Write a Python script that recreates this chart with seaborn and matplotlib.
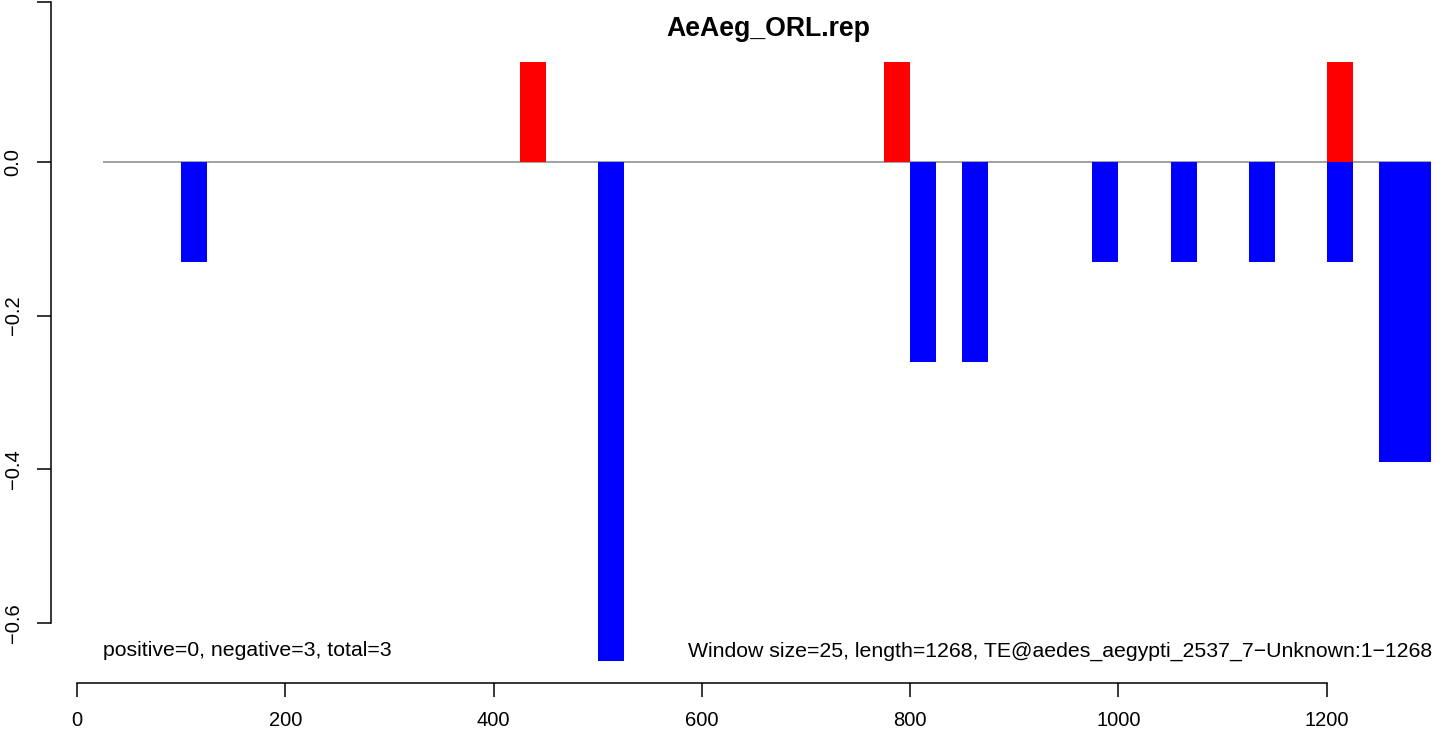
import matplotlib
matplotlib.use('Agg')
import matplotlib.pyplot as plt
import seaborn as sns
import pandas as pd

# windows (start position) with positive / negative scores
window_size = 25
pos_start = [425, 775, 1200]
pos_value = [0.13, 0.13, 0.13]
neg_start = [100, 500, 800, 850, 975, 1050, 1125, 1200, 1250, 1275]
neg_value = [-0.13, -0.65, -0.26, -0.26, -0.13, -0.13, -0.13, -0.13, -0.39, -0.39]

x_ticks = [0, 200, 400, 600, 800, 1000, 1200]
y_ticks = [-0.6, -0.4, -0.2, 0.0]

title = 'AeAeg_ORL.rep'
left_note = 'positive=0, negative=3, total=3'
right_note = 'Window size=25, length=1268, TE@aedes_aegypti_2537_7\u2212Unknown:1\u22121268'

sns.set_style('ticks')
plt.rcParams['font.family'] = ['Liberation Sans', 'DejaVu Sans']
plt.rcParams['text.color'] = 'black'
plt.rcParams['xtick.color'] = 'black'
plt.rcParams['ytick.color'] = 'black'

pos = pd.DataFrame({'start': pos_start, 'value': pos_value})
neg = pd.DataFrame({'start': neg_start, 'value': neg_value})

fig = plt.figure(figsize=(14.41, 7.31), dpi=100)
ax = fig.add_axes([50.5 / 1441, 48 / 731, 1 - 50.5 / 1441, 683 / 731])

ax.hlines(0, 25, 1300, color='#9a9a9a', lw=1.3, zorder=1)
ax.bar(pos['start'], pos['value'], width=window_size, align='edge',
       color='#ff0000', linewidth=0, zorder=2)
ax.bar(neg['start'], neg['value'], width=window_size, align='edge',
       color='#0000ff', linewidth=0, zorder=2)

ax.set_xlim(-25.6, 1309.7)
ax.set_ylim((162 - 683) / 768, 162 / 768)

sns.despine(ax=ax, top=True, right=True)
ax.spines['bottom'].set_bounds(0, 1200)
top_tick = 160.5 / 768
ax.spines['left'].set_bounds(-0.6, top_tick)
for s in ['bottom', 'left']:
    ax.spines[s].set_linewidth(1.1)
    ax.spines[s].set_color('black')

ax.set_xticks(x_ticks)
ax.set_xticklabels([str(v) for v in x_ticks])
ax.set_yticks(y_ticks + [top_tick])
ax.set_yticklabels([f'{v:.1f}'.replace('-', '\u2212') for v in y_ticks] + [''])
ax.tick_params(axis='both', direction='out', length=10, width=1.1,
               labelsize=14.5, colors='black')
ax.tick_params(axis='x', pad=10.5)
ax.tick_params(axis='y', pad=10)
for lab in ax.get_yticklabels():
    lab.set_rotation(90)
    lab.set_va('center')

ax.text(25, (162 - 651) / 768, left_note, ha='left', va='center', fontsize=15.3)
ax.text(1301, (162 - 651) / 768, right_note, ha='right', va='center', fontsize=15.3)

fig.text(768 / 1441, 1 - 36 / 731, title, ha='center', va='baseline',
         fontsize=19.2, fontweight='bold')

fig.savefig('out.png', dpi=100)
